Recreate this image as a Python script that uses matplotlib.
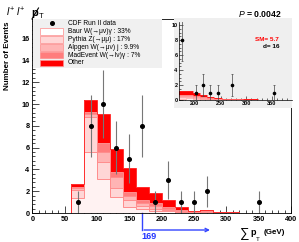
import numpy as np
import matplotlib
matplotlib.use('Agg')
import matplotlib.pyplot as plt
from matplotlib.patches import Rectangle
from matplotlib.ticker import MultipleLocator

plt.rcParams['font.family'] = ['Liberation Sans', 'DejaVu Sans']
plt.rcParams['mathtext.fontset'] = 'custom'
plt.rcParams['mathtext.rm'] = 'Liberation Sans'
plt.rcParams['mathtext.it'] = 'Liberation Sans:italic'
plt.rcParams['mathtext.bf'] = 'Liberation Sans:bold'

#--- main histogram (20 GeV bins, 0..400) ---
edges = np.arange(0, 420, 20)
baur     = [0, 0, 0, 1.40, 5.60, 3.10, 1.50, 0.55, 0.35, 0.20, 0.15, 0.08, 0.03, 0.04, 0.02, 0.02, 0, 0, 0, 0]
pythia   = [0, 0, 0, 0.70, 3.20, 1.60, 0.76, 0.60, 0.25, 0.20, 0.10, 0.05, 0.02, 0.03, 0.01, 0.01, 0, 0, 0, 0]
alpgen   = [0, 0, 0, 0.15, 0.25, 0.93, 1.00, 0.45, 0.30, 0.25, 0.15, 0.07, 0.03, 0.04, 0.02, 0.02, 0, 0, 0, 0]
madevent = [0, 0, 0, 0.10, 0.20, 0.76, 0.50, 0.30, 0.30, 0.30, 0.15, 0.08, 0.03, 0.04, 0.02, 0.02, 0, 0, 0, 0]
other    = [0, 0, 0, 0.35, 1.15, 2.66, 2.08, 2.20, 1.16, 0.85, 0.60, 0.27, 0.09, 0.15, 0.05, 0.05, 0, 0, 0, 0]

data_x = [70, 90, 110, 130, 150, 170, 190, 210, 230, 250, 270, 350]
data_y = [1, 8, 10, 6, 5, 8, 1, 3, 1, 1, 2, 1]

#--- inset (events above 169 GeV) ---
in_edges = np.arange(168, 420, 14)
in_baur     = [0.20, 0.22, 0.15, 0.12, 0.08, 0.05, 0.04, 0.04, 0.03, 0.02, 0.01, 0.01, 0.01, 0.01, 0.01, 0.00, 0.00]
in_pythia   = [0.15, 0.15, 0.10, 0.08, 0.05, 0.03, 0.02, 0.02, 0.02, 0.01, 0.01, 0.01, 0.01, 0.00, 0.00, 0.00, 0.00]
in_alpgen   = [0.15, 0.15, 0.12, 0.08, 0.05, 0.03, 0.02, 0.02, 0.02, 0.01, 0.01, 0.01, 0.00, 0.00, 0.00, 0.00, 0.00]
in_madevent = [0.15, 0.15, 0.12, 0.09, 0.06, 0.04, 0.02, 0.02, 0.02, 0.01, 0.01, 0.01, 0.01, 0.01, 0.00, 0.00, 0.00]
in_other    = [0.55, 0.58, 0.41, 0.33, 0.21, 0.15, 0.10, 0.10, 0.06, 0.05, 0.04, 0.02, 0.02, 0.02, 0.02, 0.02, 0.00]
in_data_x = [175, 203, 216, 230, 244, 272, 353]
in_data_y = [8, 1, 2, 1, 1, 2, 1]

labels = ['Baur W(\u2192\u03bc\u03bd)\u03b3 : 33%', 'Pythia Z(\u2192\u03bc\u03bc) : 17%',
          'Alpgen W(\u2192\u03bc\u03bd) j : 9.9%', 'MadEvent W(\u2192l\u03bd)\u03b3 : 7%', 'Other']
colors = ['#fff2f2', '#ffd6d6', '#ffb4b4', '#ff7d7d', '#ff0000']
edgecol = '#ff8c8c'

W, H = 299, 242
def fx(px): return px / W
def fy(py): return 1 - py / H

fig = plt.figure(figsize=(W / 100, H / 100), dpi=100, facecolor='white')
ax = fig.add_axes([fx(32.3), fy(213), fx(291) - fx(32.3), fy(19) - fy(213)])

def draw_stack(a, e, layers, lw):
    base = np.zeros(len(e) - 1)
    for vals, c in zip(layers, colors):
        top = base + np.array(vals)
        a.stairs(top, e, baseline=base, fill=True, facecolor=c, edgecolor='none', zorder=2)
        a.stairs(top, e, baseline=None, color=edgecol if c != '#ff0000' else '#ff3030', lw=lw, zorder=2.1)
        base = top

draw_stack(ax, edges, [baur, pythia, alpgen, madevent, other], 0.7)
ax.errorbar(data_x, data_y, yerr=np.sqrt(data_y), fmt='o', ms=2.6, color='black',
            ecolor='#777777', elinewidth=0.8, capsize=0, zorder=3)

ax.set_xlim(0, 400)
ax.set_ylim(0, 17.8)
ax.xaxis.set_major_locator(MultipleLocator(50))
ax.xaxis.set_minor_locator(MultipleLocator(10))
ax.yaxis.set_major_locator(MultipleLocator(2))
ax.yaxis.set_minor_locator(MultipleLocator(0.4))
ax.tick_params(which='both', direction='in', width=0.5, top=False, right=False)
ax.tick_params(which='major', length=5, labelsize=5.3, pad=2)
ax.tick_params(which='minor', length=2.5)
for t in ax.get_xticklabels() + ax.get_yticklabels():
    t.set_fontweight('bold')
for s in ax.spines.values():
    s.set_linewidth(0.6)

# legend box
fig.patches.append(Rectangle((fx(33), fy(68)), fx(162) - fx(33), fy(19) - fy(68),
                             transform=fig.transFigure, facecolor='#f0f0f0', edgecolor='none', zorder=5))
rows = [23.3, 31.5, 39.5, 47.5, 55.3, 63]
fig.lines.append(plt.Line2D([fx(51.7)], [fy(rows[0])], marker='o', ms=2.6, color='black',
                            transform=fig.transFigure, zorder=6))
fig.text(fx(67.7), fy(rows[0]), 'CDF Run II data', fontsize=4.8, va='center', zorder=6)
for r, lab, c in zip(rows[1:], labels, colors):
    fc = 'white' if c == '#fff2f2' else c
    fig.patches.append(Rectangle((fx(40), fy(r + 3)), fx(62.7) - fx(40), fy(r - 3) - fy(r + 3),
                                 transform=fig.transFigure, facecolor=fc, edgecolor=edgecol, lw=0.5, zorder=6))
    fig.text(fx(67.7), fy(r), lab, fontsize=4.8, va='center', zorder=6)

# inset pad
fig.patches.append(Rectangle((fx(174), fy(108)), fx(292) - fx(174), fy(18) - fy(108),
                             transform=fig.transFigure, facecolor='#efefef', edgecolor='none', zorder=5))
ins = fig.add_axes([fx(179), fy(100), fx(292) - fx(179), fy(22) - fy(100)], zorder=6)
ins.set_facecolor('#efefef')
draw_stack(ins, in_edges, [in_baur, in_pythia, in_alpgen, in_madevent, in_other], 0.4)
ins.errorbar(in_data_x, in_data_y, yerr=np.sqrt(in_data_y), fmt='o', ms=1.6, color='black',
             ecolor='#444444', elinewidth=0.5, capsize=1, capthick=0.5, zorder=3)
ins.set_xlim(169, 389)
ins.set_ylim(0, 10.4)
ins.xaxis.set_major_locator(MultipleLocator(50))
ins.xaxis.set_minor_locator(MultipleLocator(10))
ins.yaxis.set_major_locator(MultipleLocator(2))
ins.yaxis.set_minor_locator(MultipleLocator(0.5))
ins.tick_params(which='both', direction='in', width=0.4, top=False, right=False)
ins.tick_params(which='major', length=3, labelsize=4, pad=1)
ins.tick_params(which='minor', length=1.5)
for t in ins.get_xticklabels() + ins.get_yticklabels():
    t.set_fontweight('bold')
ins.spines['top'].set_visible(False)
ins.spines['right'].set_visible(False)
for s in ['left', 'bottom']:
    ins.spines[s].set_linewidth(0.5)
ins.text(0.885, 0.78, 'SM= 5.7', color='#ff0000', fontsize=4.6, fontweight='bold',
         ha='right', va='center', transform=ins.transAxes)
ins.text(0.885, 0.69, 'd= 16', color='black', fontsize=4.6, fontweight='bold',
         ha='right', va='center', transform=ins.transAxes)

# titles and labels
fig.text(fx(6.5), fy(17), r'$l^{+}\ l^{+}$', fontsize=7.5, va='baseline')
fig.text(fx(31.5), fy(16), 'p', fontsize=8, fontweight='bold', va='baseline')
fig.lines.append(plt.Line2D([fx(32), fx(38.5)], [fy(19), fy(8)], color='black', lw=0.8,
                            transform=fig.transFigure))
fig.text(fx(38.5), fy(18), 'T', fontsize=5.5, va='baseline')
fig.text(fx(282), fy(17), r'$P$ = 0.0042', fontsize=6.2, fontweight='bold', ha='right', va='baseline')
fig.text(fx(7.5), fy(21), 'Number of Events', fontsize=5.8, fontweight='bold', rotation=90,
         ha='center', va='top')
fig.text(fx(240), fy(237.5), '\u2211', fontsize=9.5, va='baseline')
fig.text(fx(250), fy(235), 'p', fontsize=6.5, fontweight='bold', va='baseline')
fig.text(fx(255.5), fy(241), 'T', fontsize=4.5, va='baseline')
fig.text(fx(264), fy(234), '(GeV)', fontsize=5.8, fontweight='bold', va='baseline')

# blue arrow at the cut value
ax.plot([169, 169], [0, -1.56], color='#3344ff', lw=1.0, clip_on=False)
ax.annotate('', xy=(279, -1.56), xytext=(168.6, -1.56), xycoords='data',
            arrowprops=dict(arrowstyle='->', color='#3344ff', lw=1.0, mutation_scale=6),
            annotation_clip=False)
ax.text(169, -2.2, '169', color='#2233ff', fontsize=6.5, fontweight='bold', ha='left', va='center',
        clip_on=False)

fig.savefig('out.png', dpi=100)
